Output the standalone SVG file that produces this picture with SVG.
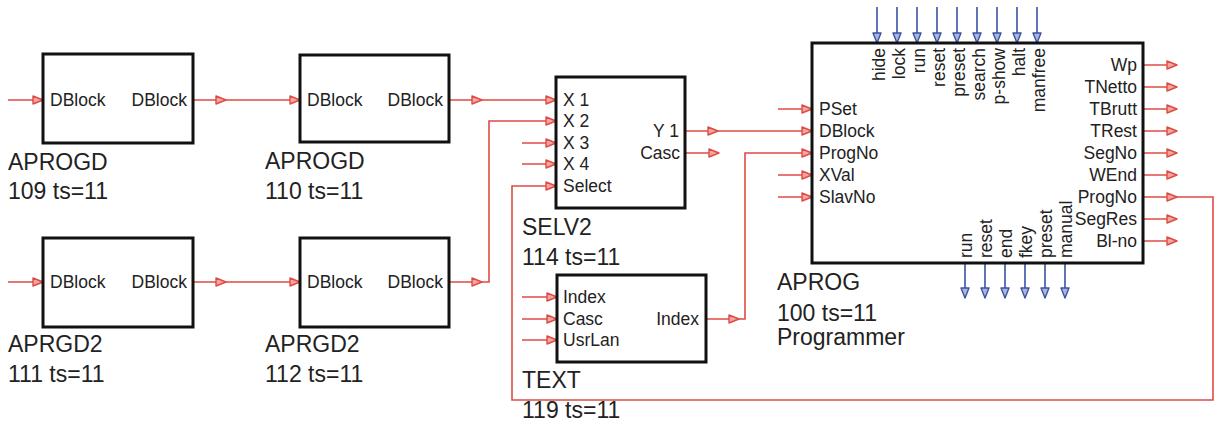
<svg xmlns="http://www.w3.org/2000/svg" xmlns:xlink="http://www.w3.org/1999/xlink" width="1215" height="424" viewBox="0 0 1215 424">
<style>
text{font-family:"Liberation Sans",Arial,sans-serif;fill:#222}
.pin{font-size:17.5px}
.lbl{font-size:23px}
.r{text-anchor:end}
.blk{fill:#fff;stroke:#111;stroke-width:3}
.w{fill:none;stroke:#de4b44;stroke-width:1.6}
.b{fill:none;stroke:#3a52a0;stroke-width:1.6}
.ah{fill:#f3a6a0;stroke:#de4b44;stroke-width:1.4;stroke-linejoin:round}
.bh{fill:#aab6de;stroke:#3a52a0;stroke-width:1.4;stroke-linejoin:round}
</style>
<defs>
<path id="ar" class="ah" d="M-10,-4 L0,0 L-10,4 Z"/>
<path id="ab" class="bh" d="M-4,-10 L0,0 L4,-10 Z"/>
</defs>
<rect width="1215" height="424" fill="#fff"/>
<g id="connectors">
<path class="w" d="M8,100 H43"/>
<path class="w" d="M193,100 H300"/>
<path class="w" d="M449,100 H556"/>
<path class="w" d="M8,282 H43"/>
<path class="w" d="M193,282 H300"/>
<path class="w" d="M449,282 H489 V121 H556"/>
<path class="w" d="M522,143 H556 M522,164 H556"/>
<path class="w" d="M685,131 H812"/>
<path class="w" d="M685,153 H719"/>
<path class="w" d="M522,297 H557 M522,319 H557 M522,340 H557"/>
<path class="w" d="M706,319 H745 V153 H812"/>
<path class="w" d="M778,109 H812 M778,175 H812 M778,197 H812"/>
<path class="w" d="M1143,65 H1177 M1143,87 H1177 M1143,109 H1177 M1143,131 H1177 M1143,153 H1177 M1143,175 H1177 M1143,219 H1177 M1143,241 H1177"/>
<path class="w" d="M1143,197 H1213 V400 H512 V186 H556"/>
<path class="b" d="M877,7 V43 M897,7 V43 M917,7 V43 M937,7 V43 M957,7 V43 M977,7 V43 M997,7 V43 M1017,7 V43 M1037,7 V43"/>
<path class="b" d="M965,263 V298 M985,263 V298 M1005,263 V298 M1025,263 V298 M1045,263 V298 M1065,263 V298"/>
<use xlink:href="#ar" x="43" y="100"/><use xlink:href="#ar" x="226" y="100"/><use xlink:href="#ar" x="300" y="100"/>
<use xlink:href="#ar" x="482" y="100"/><use xlink:href="#ar" x="556" y="100"/>
<use xlink:href="#ar" x="43" y="282"/><use xlink:href="#ar" x="226" y="282"/><use xlink:href="#ar" x="300" y="282"/>
<use xlink:href="#ar" x="482" y="282"/><use xlink:href="#ar" x="556" y="121"/>
<use xlink:href="#ar" x="556" y="143"/><use xlink:href="#ar" x="556" y="164"/><use xlink:href="#ar" x="556" y="186"/>
<use xlink:href="#ar" x="718" y="131"/><use xlink:href="#ar" x="719" y="153"/><use xlink:href="#ar" x="812" y="131"/>
<use xlink:href="#ar" x="557" y="297"/><use xlink:href="#ar" x="557" y="319"/><use xlink:href="#ar" x="557" y="340"/>
<use xlink:href="#ar" x="739" y="319"/><use xlink:href="#ar" x="812" y="153"/>
<use xlink:href="#ar" x="812" y="109"/><use xlink:href="#ar" x="812" y="175"/><use xlink:href="#ar" x="812" y="197"/>
<use xlink:href="#ar" x="1177" y="65"/><use xlink:href="#ar" x="1177" y="87"/><use xlink:href="#ar" x="1177" y="109"/>
<use xlink:href="#ar" x="1177" y="131"/><use xlink:href="#ar" x="1177" y="153"/><use xlink:href="#ar" x="1177" y="175"/>
<use xlink:href="#ar" x="1177" y="197"/><use xlink:href="#ar" x="1177" y="219"/><use xlink:href="#ar" x="1177" y="241"/>
<use xlink:href="#ab" x="877" y="43"/><use xlink:href="#ab" x="897" y="43"/><use xlink:href="#ab" x="917" y="43"/>
<use xlink:href="#ab" x="937" y="43"/><use xlink:href="#ab" x="957" y="43"/><use xlink:href="#ab" x="977" y="43"/>
<use xlink:href="#ab" x="997" y="43"/><use xlink:href="#ab" x="1017" y="43"/><use xlink:href="#ab" x="1037" y="43"/>
<use xlink:href="#ab" x="965" y="298"/><use xlink:href="#ab" x="985" y="298"/><use xlink:href="#ab" x="1005" y="298"/>
<use xlink:href="#ab" x="1025" y="298"/><use xlink:href="#ab" x="1045" y="298"/><use xlink:href="#ab" x="1065" y="298"/>
</g>
<g id="n109">
<rect class="blk" x="43" y="54" width="150" height="89"/>
<text class="pin" x="50" y="106">DBlock</text>
<text class="pin r" x="187" y="106">DBlock</text>
<text class="lbl" x="8" y="170">APROGD</text>
<text class="lbl" x="8" y="199">109 ts=11</text>
</g>
<g id="n110">
<rect class="blk" x="300" y="55" width="149" height="87"/>
<text class="pin" x="307" y="106">DBlock</text>
<text class="pin r" x="443" y="106">DBlock</text>
<text class="lbl" x="265" y="169">APROGD</text>
<text class="lbl" x="265" y="199">110 ts=11</text>
</g>
<g id="n111">
<rect class="blk" x="43" y="238" width="150" height="89"/>
<text class="pin" x="50" y="288">DBlock</text>
<text class="pin r" x="187" y="288">DBlock</text>
<text class="lbl" x="8" y="352">APRGD2</text>
<text class="lbl" x="8" y="382">111 ts=11</text>
</g>
<g id="n112">
<rect class="blk" x="300" y="238" width="149" height="89"/>
<text class="pin" x="307" y="288">DBlock</text>
<text class="pin r" x="443" y="288">DBlock</text>
<text class="lbl" x="265" y="352">APRGD2</text>
<text class="lbl" x="265" y="382">112 ts=11</text>
</g>
<g id="n114">
<rect class="blk" x="556" y="77" width="129" height="131"/>
<text class="pin" x="563" y="106">X 1</text>
<text class="pin" x="563" y="127">X 2</text>
<text class="pin" x="563" y="149">X 3</text>
<text class="pin" x="563" y="170">X 4</text>
<text class="pin" x="563" y="192">Select</text>
<text class="pin r" x="679" y="137">Y 1</text>
<text class="pin r" x="680" y="159">Casc</text>
<text class="lbl" x="522" y="235">SELV2</text>
<text class="lbl" x="522" y="265">114 ts=11</text>
</g>
<g id="n119">
<rect class="blk" x="557" y="275" width="149" height="87"/>
<text class="pin" x="563" y="303">Index</text>
<text class="pin" x="563" y="325">Casc</text>
<text class="pin" x="563" y="346">UsrLan</text>
<text class="pin r" x="699" y="325">Index</text>
<text class="lbl" x="522" y="388">TEXT</text>
<text class="lbl" x="522" y="418">119 ts=11</text>
</g>
<g id="n100">
<rect class="blk" x="812" y="43" width="331" height="220"/>
<text class="pin" x="819" y="115">PSet</text>
<text class="pin" x="819" y="137">DBlock</text>
<text class="pin" x="819" y="159">ProgNo</text>
<text class="pin" x="819" y="181">XVal</text>
<text class="pin" x="819" y="203">SlavNo</text>
<text class="pin r" x="1137" y="71">Wp</text>
<text class="pin r" x="1137" y="93">TNetto</text>
<text class="pin r" x="1137" y="115">TBrutt</text>
<text class="pin r" x="1137" y="137">TRest</text>
<text class="pin r" x="1137" y="159">SegNo</text>
<text class="pin r" x="1137" y="181">WEnd</text>
<text class="pin r" x="1137" y="203">ProgNo</text>
<text class="pin r" x="1137" y="225">SegRes</text>
<text class="pin r" x="1137" y="247">Bl-no</text>
<text class="pin r" transform="translate(885,48) rotate(-90)">hide</text>
<text class="pin r" transform="translate(905,48) rotate(-90)">lock</text>
<text class="pin r" transform="translate(925,48) rotate(-90)">run</text>
<text class="pin r" transform="translate(945,48) rotate(-90)">reset</text>
<text class="pin r" transform="translate(965,48) rotate(-90)">preset</text>
<text class="pin r" transform="translate(985,48) rotate(-90)">search</text>
<text class="pin r" transform="translate(1005,48) rotate(-90)">p-show</text>
<text class="pin r" transform="translate(1025,48) rotate(-90)">halt</text>
<text class="pin r" transform="translate(1045,48) rotate(-90)">manfree</text>
<text class="pin" transform="translate(972,258) rotate(-90)">run</text>
<text class="pin" transform="translate(992,258) rotate(-90)">reset</text>
<text class="pin" transform="translate(1012,258) rotate(-90)">end</text>
<text class="pin" transform="translate(1032,258) rotate(-90)">fkey</text>
<text class="pin" transform="translate(1052,258) rotate(-90)">preset</text>
<text class="pin" transform="translate(1072,258) rotate(-90)">manual</text>
<text class="lbl" x="777" y="290">APROG</text>
<text class="lbl" x="777" y="321">100 ts=11</text>
<text class="lbl" x="777" y="345">Programmer</text>
</g>
</svg>
